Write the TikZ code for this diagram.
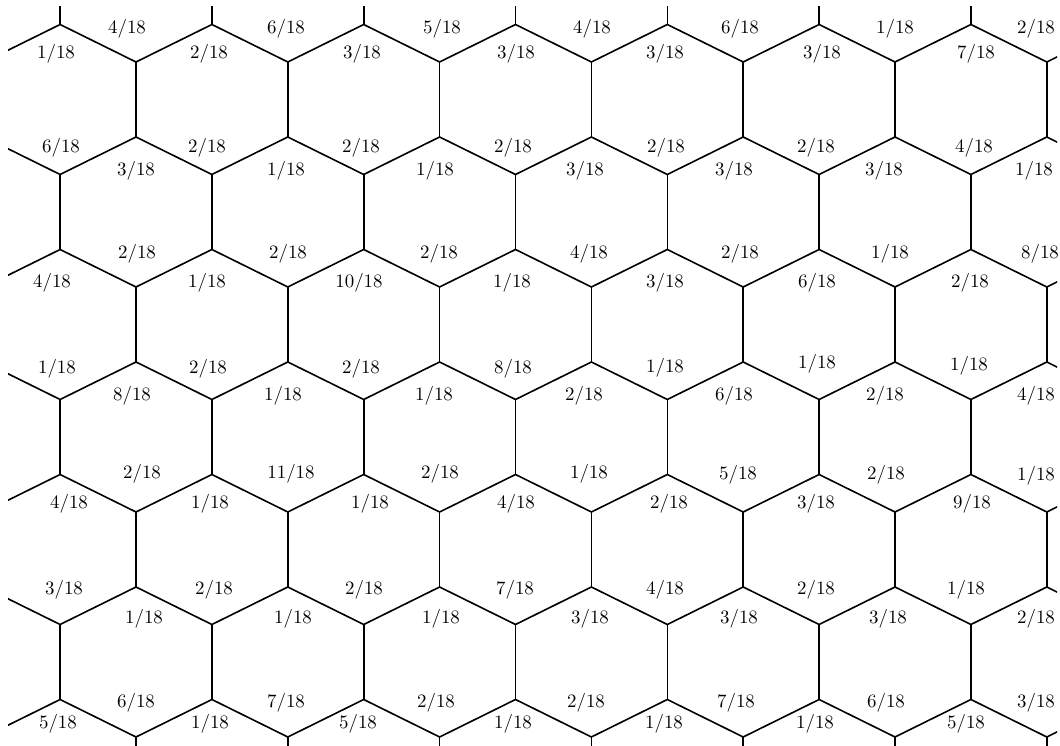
\documentclass[tikz,border=0pt]{standalone}
\begin{document}
\begin{tikzpicture}[x=0.529pt,y=-0.529pt,
  hexline/.style={line width=0.85pt, black},
  frac/.style={font=\fontsize{10}{12}\selectfont, inner sep=0pt, anchor=base}]
\useasboundingbox (0,0) rectangle (1060,746);
\begin{scope}
  \clip (8,7) rectangle (1057,760);
  % zigzag rows
  \foreach \b in {0,...,6}
    \draw[hexline] plot[samples at={-2,...,13}]
      ({136+75.9*\x}, {24.5+112.5*\b+37.5*(1-mod(\x+\b+4,2))});
  % vertical edges
  \foreach \r in {-1,...,6}
    \foreach \k in {-1,...,7}
      \draw[hexline] ({136+75.9*(2*\k+mod(\r+2,2))}, {62+112.5*\r}) -- ++(0,75);
\end{scope}
% labels
\foreach \px/\py/\n [count=\i] in {
  127/28/4, 286/28/6, 442/28/5, 592/28/4, 740/28/6, 895/28/1, 1036/28/2,
  56/53/1, 209/53/2, 362/53/3, 516/53/3, 665/53/3, 822/53/3, 976/53/7,
  61/147/6, 207/147/2, 361/147/2, 513/147/2, 666/147/2, 816/147/2, 974/147/4,
  136/170/3, 286/170/1, 435/170/1, 585/170/3, 734/170/3, 884/170/3, 1034/170/1,
  137/253/2, 288/253/2, 439/253/2, 589/253/4, 740/253/2, 890/253/1, 1040/253/8,
  52/282/4, 207/282/1, 359/282/10, 512/282/1, 665/282/3, 817/282/6, 970/282/2,
  57/368/1, 208/368/2, 361/368/2, 513/368/8, 665/367/1, 817/363/1, 969/365/1,
  132/395/8, 283/395/1, 434/395/1, 584/395/2, 734/395/6, 885/395/2, 1036/395/4,
  142/473/2, 291/473/11, 440/473/2, 589/473/1, 738/474/5, 886/474/2, 1036/475/1,
  69/503/4, 210/503/1, 370/503/1, 516/503/4, 669/503/2, 816/503/3, 972/503/9,
  64/588/3, 214/588/2, 364/588/2, 515/588/7, 665/588/4, 816/588/2, 966/588/1,
  144/617/1, 293/617/1, 441/617/1, 590/617/3, 739/617/3, 888/617/3, 1036/617/2,
  136/701/6, 286/701/7, 436/701/2, 586/701/2, 736/701/7, 886/701/6, 1036/701/3,
  58/722/5, 210/722/1, 358/722/5, 513/722/1, 664/722/1, 815/722/1, 966/722/5}
  \node[frac] (l\i) at ({\px},{\py+6}) {\n/18};
\end{tikzpicture}
\end{document}
